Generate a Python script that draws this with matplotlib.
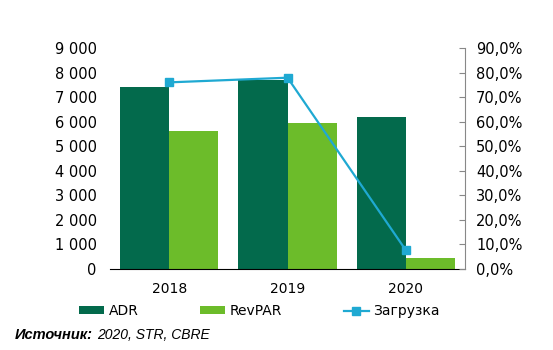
import matplotlib
matplotlib.use("Agg")
import numpy as np
import matplotlib.pyplot as plt
from matplotlib.ticker import FuncFormatter, MultipleLocator

# --- data ---
years = ['2018', '2019', '2020']
adr = [7400, 7680, 6200]
revpar = [5620, 5950, 450]
occupancy = [76.0, 77.9, 7.6]  # %

dark_green = '#036a4c'
light_green = '#6cbc2a'
blue = '#1fa9d2'

plt.rcParams['font.family'] = 'DejaVu Sans'

fig = plt.figure(figsize=(5.53, 3.5), dpi=100)
ax = fig.add_axes([0.199, 0.2314, 0.642, 0.6315])

x = np.arange(len(years))
w = 0.415
b1 = ax.bar(x - w / 2, adr, width=w, color=dark_green, label='ADR')
b2 = ax.bar(x + w / 2, revpar, width=w, color=light_green, label='RevPAR')

ax.set_xlim(-0.5, 2.5)
ax.set_ylim(0, 9000)
ax.yaxis.set_major_locator(MultipleLocator(1000))
ax.yaxis.set_major_formatter(FuncFormatter(lambda v, p: f'{int(v):,}'.replace(',', ' ')))
ax.set_xticks(x)
ax.set_xticklabels(years)
ax.tick_params(axis='y', length=0, labelsize=10.5, pad=9.5)
ax.tick_params(axis='x', length=0, labelsize=10, pad=9.5)
for s in ['top', 'right', 'left']:
    ax.spines[s].set_visible(False)
ax.spines['bottom'].set_color('black')

ax2 = ax.twinx()
l1, = ax2.plot(x, occupancy, color=blue, lw=1.6, marker='s', markersize=5.5,
               label='Загрузка')
ax2.set_ylim(0, 90)
ax2.yaxis.set_major_locator(MultipleLocator(10))
ax2.yaxis.set_major_formatter(FuncFormatter(lambda v, p: f'{v:.1f}%'.replace('.', ',')))
ax2.tick_params(axis='y', direction='in', length=4, color='#888888', labelsize=10.5, pad=8)
for s in ['top', 'left', 'bottom']:
    ax2.spines[s].set_visible(False)
ax2.spines['right'].set_color('#888888')

fig.legend(handles=[b1, b2, l1], loc='center left', bbox_to_anchor=(0.131, 0.111),
           ncol=3, frameon=False, fontsize=10, handlelength=1.8, handleheight=0.45,
           handletextpad=0.3, columnspacing=4.45, borderpad=0)

fig.text(0.027, 0.043, 'Источник:', fontsize=10.5, style='italic', weight='bold',
         family='Liberation Sans', va='center')
fig.text(0.175, 0.043, '2020, STR, CBRE', fontsize=10, style='italic',
         family='Liberation Sans', va='center')

fig.savefig('out.png', dpi=100)
